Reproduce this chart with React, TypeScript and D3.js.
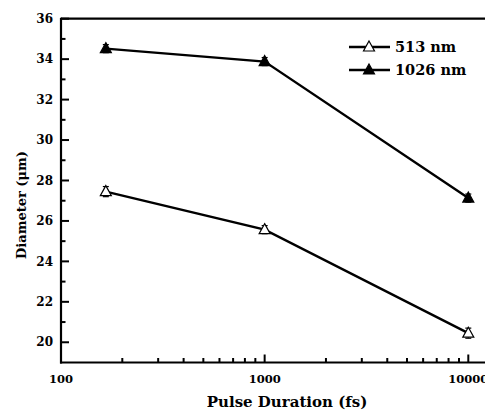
import React from "react";
import * as d3 from "d3";

const durations = [166, 1000, 10000];
const d513 = [27.45, 25.57, 20.45];
const d1026 = [34.52, 33.88, 27.13];
const err513 = [0.25, 0.2, 0.25];
const err1026 = [0.2, 0.2, 0.2];
const yTicks = [20, 22, 24, 26, 28, 30, 32, 34, 36];
const xTickLabels = [100, 1000, 10000];

const W = 485, H = 415;
const L = 61, T = 18.7, B = 362.5;

export default function App() {
  const x = d3.scaleLog().domain([100, 10000]).range([L, 468.3]);
  const y = d3.scaleLinear().domain([19, 36]).range([B, T]);
  const R = 495;
  const font = "'DejaVu Serif', serif";
  const line = d3.line<number>().x((_, i) => x(durations[i])).y((d) => y(d));

  const minorX: number[] = [];
  for (let dec = 100; dec <= 10000; dec *= 10) {
    for (let k = 2; k <= 9; k++) if (dec * k < 12000 && dec * k !== 10000) minorX.push(dec * k);
  }
  const minorY: number[] = [];
  for (let v = 21; v <= 35; v += 2) minorY.push(v);

  const tri = (cx: number, cy: number, filled: boolean, key: string) => (
    <path key={key}
      d={`M${cx},${cy - 6} L${cx + 5.5},${cy + 4} L${cx - 5.5},${cy + 4} Z`}
      fill={filled ? "#000" : "#fff"} stroke="#000" strokeWidth={1.2} />
  );
  const errBar = (cx: number, v: number, e: number, key: string) => (
    <g key={key} stroke="#000" strokeWidth={1.2}>
      <line x1={cx} x2={cx} y1={y(v + e)} y2={y(v - e)} />
      <line x1={cx - 3} x2={cx + 3} y1={y(v + e)} y2={y(v + e)} />
      <line x1={cx - 3} x2={cx + 3} y1={y(v - e)} y2={y(v - e)} />
    </g>
  );
  const ts: React.CSSProperties = { fontFamily: font, fontWeight: 700 };

  return (
    <svg width={W} height={H} style={{ position: "absolute", left: 0, top: 0, background: "#fff" }}>
      <rect x={0} y={0} width={W} height={H} fill="#fff" />
      <line x1={L} x2={R} y1={T} y2={T} stroke="#000" strokeWidth={2.2} />
      <line x1={L} x2={L} y1={T - 1} y2={B + 1} stroke="#000" strokeWidth={2.2} />
      <line x1={L - 1} x2={R} y1={B} y2={B} stroke="#000" strokeWidth={2.2} />
      {yTicks.map((v) => (
        <g key={"yt" + v}>
          <line x1={L} x2={L + 8} y1={y(v)} y2={y(v)} stroke="#000" strokeWidth={2} />
          <text x={53} y={y(v)} dy="0.35em" textAnchor="end" fontSize={12} style={ts}>{v}</text>
        </g>
      ))}
      {minorY.map((v) => (
        <line key={"ym" + v} x1={L} x2={L + 4.5} y1={y(v)} y2={y(v)} stroke="#000" strokeWidth={2} />
      ))}
      {xTickLabels.map((v) => (
        <g key={"xt" + v}>
          <line x1={x(v)} x2={x(v)} y1={B} y2={B - 8} stroke="#000" strokeWidth={2} />
          <text x={x(v)} y={383} textAnchor="middle" fontSize={11.5} style={ts}>{v}</text>
        </g>
      ))}
      {minorX.map((v) => (
        <line key={"xm" + v} x1={x(v)} x2={x(v)} y1={B} y2={B - 4.5} stroke="#000" strokeWidth={2} />
      ))}
      <path d={line(d513) || ""} fill="none" stroke="#000" strokeWidth={2.4} />
      <path d={line(d1026) || ""} fill="none" stroke="#000" strokeWidth={2.4} />
      {d513.map((v, i) => errBar(x(durations[i]), v, err513[i], "e5" + i))}
      {d1026.map((v, i) => errBar(x(durations[i]), v, err1026[i], "e1" + i))}
      {d513.map((v, i) => tri(x(durations[i]), y(v), false, "t5" + i))}
      {d1026.map((v, i) => tri(x(durations[i]), y(v), true, "t1" + i))}
      <line x1={349} x2={390} y1={47} y2={47} stroke="#000" strokeWidth={2.4} />
      {tri(369, 47, false, "lg1")}
      <text x={395} y={47} dy="0.35em" fontSize={14.5} style={ts}>513 nm</text>
      <line x1={349} x2={390} y1={70} y2={70} stroke="#000" strokeWidth={2.4} />
      {tri(369, 70, true, "lg2")}
      <text x={395} y={70} dy="0.35em" fontSize={14.5} style={ts}>1026 nm</text>
      <text x={287} y={407} textAnchor="middle" fontSize={15} style={ts}>Pulse Duration (fs)</text>
      <text transform={`translate(26, ${205}) rotate(-90)`} textAnchor="middle" fontSize={13} style={ts}>Diameter (μm)</text>
    </svg>
  );
}
